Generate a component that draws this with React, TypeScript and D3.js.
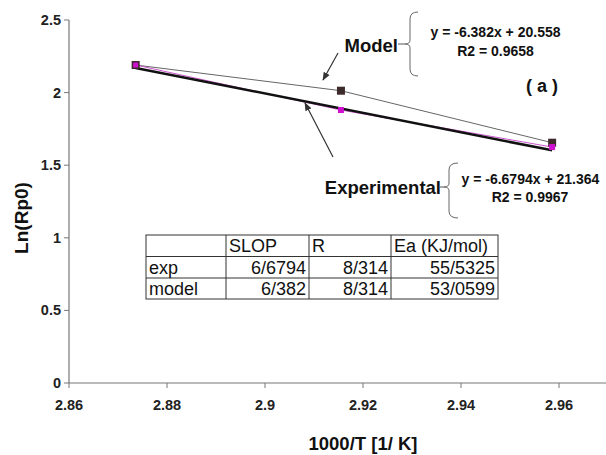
import React from "react";
import * as d3 from "d3";

const xValues = [2.8736, 2.9155, 2.9586];
const modelValues = [2.19, 2.013, 1.655];
const expValues = [2.19, 1.88, 1.625];
const expFit = { slope: -6.6794, intercept: 21.364 };
const xTicks = [2.86, 2.88, 2.9, 2.92, 2.94, 2.96];
const yTicks = [0, 0.5, 1, 1.5, 2, 2.5];
const tableHeader = ["", "SLOP", "R", "Ea (KJ/mol)"];
const tableRows = [
  ["exp", "6/6794", "8/314", "55/5325"],
  ["model", "6/382", "8/314", "53/0599"],
];

const W = 606;
const H = 455;
const FONT = "'Liberation Sans', Arial, sans-serif";

export default function App() {
  const x = d3.scaleLinear().domain([2.86, 2.97]).range([69, 608]);
  const y = d3.scaleLinear().domain([0, 2.5]).range([383, 20]);

  const line = d3
    .line<[number, number]>()
    .x((d) => x(d[0]))
    .y((d) => y(d[1]));

  const modelPts: [number, number][] = xValues.map((v, i) => [v, modelValues[i]]);
  const expPts: [number, number][] = xValues.map((v, i) => [v, expValues[i]]);
  const fitPts: [number, number][] = [xValues[0], xValues[xValues.length - 1]].map((v) => [
    v,
    expFit.slope * v + expFit.intercept,
  ]);

  // table geometry
  const colX = [146, 226, 309, 391, 498];
  const rowY = [235, 256.5, 278, 299];

  const brace = (bx: number, top: number, bot: number, tip: number, hook: number) =>
    `M${bx + hook},${top} Q${bx},${top} ${bx},${top + 7} L${bx},${tip - 4} Q${bx},${tip} ${bx - 5},${tip} Q${bx},${tip} ${bx},${tip + 4} L${bx},${bot - 7} Q${bx},${bot} ${bx + hook},${bot}`;

  return (
    <svg
      width={W}
      height={H}
      style={{ position: "absolute", left: 0, top: 0, background: "#fff" }}
      fontFamily={FONT}
    >
      <defs>
        <marker id="arr" viewBox="0 0 10 10" refX="9" refY="5" markerWidth="7" markerHeight="7" orient="auto">
          <path d="M0,1 L10,5 L0,9 z" fill="#333" />
        </marker>
      </defs>
      <rect x={0} y={0} width={W} height={H} fill="#fff" />

      {/* axes */}
      <line x1={x(2.86)} x2={W} y1={y(0)} y2={y(0)} stroke="#777" strokeWidth={1.2} />
      <line x1={x(2.86)} x2={x(2.86)} y1={y(0)} y2={y(2.5)} stroke="#777" strokeWidth={1.2} />
      {xTicks.map((t) => (
        <g key={"xt" + t}>
          <line x1={x(t)} x2={x(t)} y1={y(0)} y2={y(0) + 5} stroke="#777" />
          <text x={x(t)} y={410} textAnchor="middle" fontSize={14.5} fontWeight="bold" fill="#222">
            {t === 2.9 ? "2.9" : t.toFixed(2)}
          </text>
        </g>
      ))}
      {yTicks.map((t) => (
        <g key={"yt" + t}>
          <line x1={x(2.86) - 5} x2={x(2.86)} y1={y(t)} y2={y(t)} stroke="#777" />
          <text x={61} y={y(t) + 5} textAnchor="end" fontSize={14.5} fontWeight="bold" fill="#222">
            {String(t)}
          </text>
        </g>
      ))}
      <text x={363} y={450} textAnchor="middle" fontSize={18.5} fontWeight="bold" fill="#111">
        1000/T [1/ K]
      </text>
      <text
        transform="translate(28,218) rotate(-90)"
        textAnchor="middle"
        fontSize={19}
        fontWeight="bold"
        fill="#111"
      >
        Ln(Rp0)
      </text>

      {/* series */}
      <path d={line(modelPts) || ""} fill="none" stroke="#666" strokeWidth={1} />
      <path d={line(expPts) || ""} fill="none" stroke="#cc55cc" strokeWidth={1} />
      <path d={line(fitPts) || ""} fill="none" stroke="#111" strokeWidth={2.5} />
      {modelPts.map((p, i) => (
        <rect key={"m" + i} x={x(p[0]) - 4} y={y(p[1]) - 4} width={8} height={8} fill="#3d2a2a" />
      ))}
      {expPts.map((p, i) => (
        <rect
          key={"e" + i}
          x={x(p[0]) - 3}
          y={y(p[1]) - 3}
          width={6}
          height={6}
          fill="#d010d0"
          stroke={i === 0 ? "#3d2a2a" : "none"}
          strokeWidth={1}
        />
      ))}

      {/* annotations: Model */}
      <line x1={338} y1={53} x2={323} y2={80} stroke="#333" strokeWidth={1.2} markerEnd="url(#arr)" />
      <text x={398} y={51.5} textAnchor="end" fontSize={18.5} fontWeight="bold" fill="#111">
        Model
      </text>
      <line x1={398} x2={405} y1={44} y2={44} stroke="#555" />
      <path d={brace(410, 12, 76, 44, 8)} fill="none" stroke="#666" strokeWidth={1} />
      <text x={495.5} y={37.3} textAnchor="middle" fontSize={14} fontWeight="bold" fill="#111">
        y = -6.382x + 20.558
      </text>
      <text x={495.5} y={55.7} textAnchor="middle" fontSize={14} fontWeight="bold" fill="#111">
        R2 = 0.9658
      </text>
      <text x={542} y={91.5} textAnchor="middle" fontSize={18} fontWeight="bold" fill="#111">
        ( a )
      </text>

      {/* annotations: Experimental */}
      <line x1={333} y1={157} x2={305} y2={103} stroke="#333" strokeWidth={1.2} markerEnd="url(#arr)" />
      <text x={441} y={193.6} textAnchor="end" fontSize={18.5} fontWeight="bold" fill="#111">
        Experimental
      </text>
      <line x1={440} x2={444} y1={187} y2={187} stroke="#555" />
      <path d={brace(449, 163, 218, 187, 9)} fill="none" stroke="#666" strokeWidth={1} />
      <text x={530.4} y={184} textAnchor="middle" fontSize={14} fontWeight="bold" fill="#111">
        y = -6.6794x + 21.364
      </text>
      <text x={530} y={202.3} textAnchor="middle" fontSize={14} fontWeight="bold" fill="#111">
        R2 = 0.9967
      </text>

      {/* table */}
      <g>
        <rect
          x={colX[0]}
          y={rowY[0]}
          width={colX[4] - colX[0]}
          height={rowY[3] - rowY[0]}
          fill="#fff"
          stroke="#333"
          strokeWidth={1}
        />
        {colX.slice(1, 4).map((cx, i) => (
          <line key={"c" + i} x1={cx} x2={cx} y1={rowY[0]} y2={rowY[3]} stroke="#333" />
        ))}
        {rowY.slice(1, 3).map((ry, i) => (
          <line key={"r" + i} x1={colX[0]} x2={colX[4]} y1={ry} y2={ry} stroke="#333" />
        ))}
        {tableHeader.map((h, i) => (
          <text key={"h" + i} x={colX[i] + 3} y={rowY[1] - 4.3} fontSize={18} fill="#111">
            {h}
          </text>
        ))}
        {tableRows.map((row, r) =>
          row.map((cell, c) => (
            <text
              key={"t" + r + c}
              x={c === 0 ? colX[0] + 3 : colX[c + 1] - 3}
              y={rowY[r + 2] - 4.3}
              textAnchor={c === 0 ? "start" : "end"}
              fontSize={18}
              fill="#111"
            >
              {cell}
            </text>
          ))
        )}
      </g>
    </svg>
  );
}
